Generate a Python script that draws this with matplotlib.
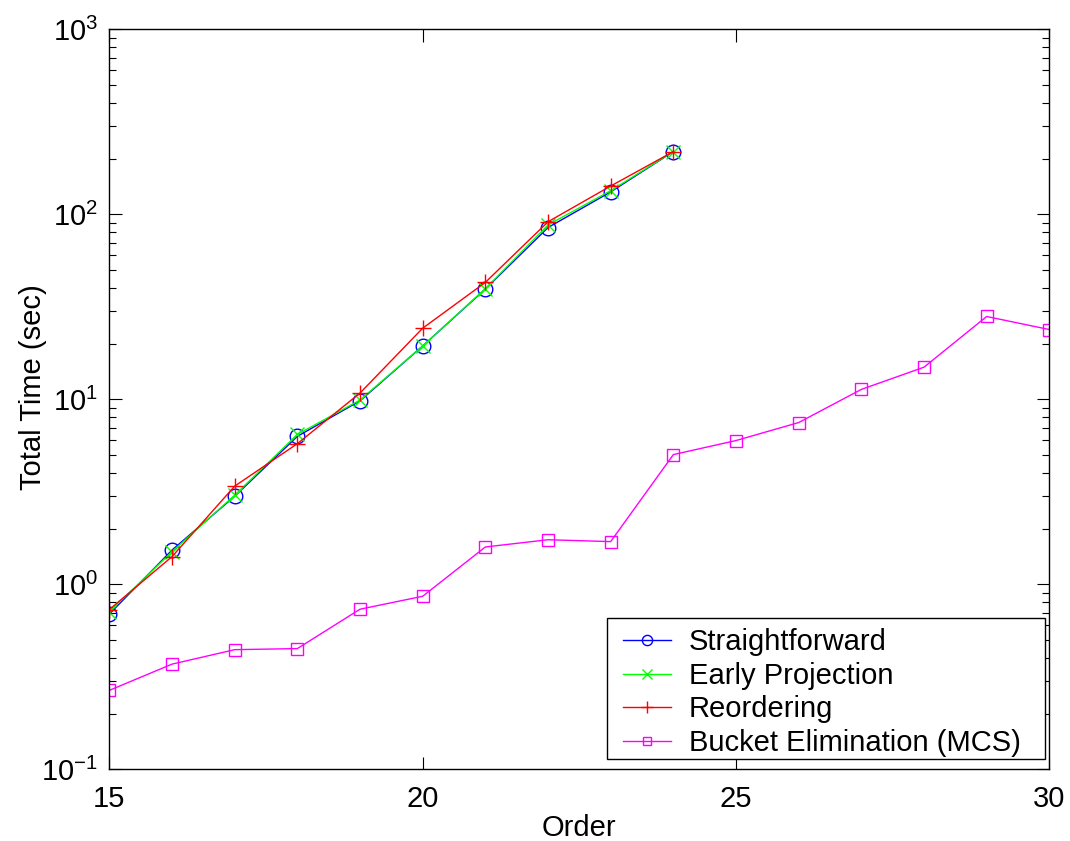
import numpy as np
import matplotlib
matplotlib.use("Agg")
import matplotlib.pyplot as plt
from matplotlib.patches import Rectangle
from matplotlib.ticker import LogLocator, FixedLocator

plt.rcParams["font.family"] = ["Liberation Sans", "DejaVu Sans"]
plt.rcParams["mathtext.fontset"] = "custom"
plt.rcParams["mathtext.rm"] = "Liberation Sans"

# data
order_short = [15, 16, 17, 18, 19, 20, 21, 22, 23, 24]
straightforward = [0.69, 1.53, 2.99, 6.3, 9.8, 19.4, 39.4, 84.7, 132, 218]
early_proj = [0.71, 1.50, 3.03, 6.45, 9.9, 19.4, 39.6, 87.5, 134, 218]
reordering = [0.73, 1.41, 3.39, 5.75, 10.8, 24.2, 42.8, 91, 142, 218]

order_long = list(range(15, 31))
bucket = [0.267, 0.37, 0.443, 0.449, 0.733, 0.861, 1.59, 1.74, 1.70,
          5.02, 5.98, 7.48, 11.3, 14.9, 28.0, 23.8]

labels = ["Straightforward", "Early Projection", "Reordering",
          "Bucket Elimination (MCS)"]

fig = plt.figure(figsize=(10.7, 8.41), dpi=100)
ax = fig.add_axes([0.1022, 0.0853, 0.8785, 0.880])

lw = 1.0
ax.plot(order_short, straightforward, color=(0, 0, 1), marker="o", ms=10.5,
        mfc="none", mew=1.0, lw=lw, label=labels[0])
ax.plot(order_short, early_proj, color=(0, 1, 0), marker="x", ms=9.5,
        mew=1.0, lw=lw, label=labels[1])
ax.plot(order_short, reordering, color=(1, 0, 0), marker="+", ms=11.5,
        mew=1.0, lw=lw, label=labels[2])
ax.plot(order_long, bucket, color=(1, 0, 1), marker="s", ms=9,
        mfc="none", mew=1.0, lw=lw, label=labels[3])

ax.set_yscale("log")
ax.set_xlim(15, 30)
ax.set_ylim(0.1, 1000)
ax.xaxis.set_major_locator(FixedLocator([15, 20, 25, 30]))
ax.yaxis.set_major_locator(LogLocator(base=10, numticks=10))
ax.yaxis.set_minor_locator(LogLocator(base=10, subs=np.arange(2, 10), numticks=10))

fs = 21
ax.tick_params(which="both", direction="in", top=True, right=True,
               labelsize=fs, width=0.8)
ax.tick_params(which="major", length=9, pad=8)
ax.tick_params(which="minor", length=5)
ax.tick_params(axis="x", which="major", pad=11)
for s in ax.spines.values():
    s.set_linewidth(1.0)

ax.set_xlabel("Order", fontsize=fs, labelpad=1)
ax.set_ylabel("Total Time (sec)", fontsize=fs)
ax.yaxis.set_label_coords(-0.066, 0.517)

# legend frame drawn separately (MATLAB-style padding)
ax.add_patch(Rectangle((0.529, 0.0139), 0.466, 0.1905, transform=ax.transAxes,
                       facecolor="white", edgecolor="black", lw=1.0, zorder=4))
leg = ax.legend(loc="lower left", bbox_to_anchor=(0.5465, 0.0166),
                borderaxespad=0, fontsize=fs, frameon=False, markerscale=0.7,
                handlelength=1.65, handletextpad=0.6, labelspacing=0.19,
                borderpad=0)
leg.set_zorder(5)

fig.savefig("out.png", dpi=100)
